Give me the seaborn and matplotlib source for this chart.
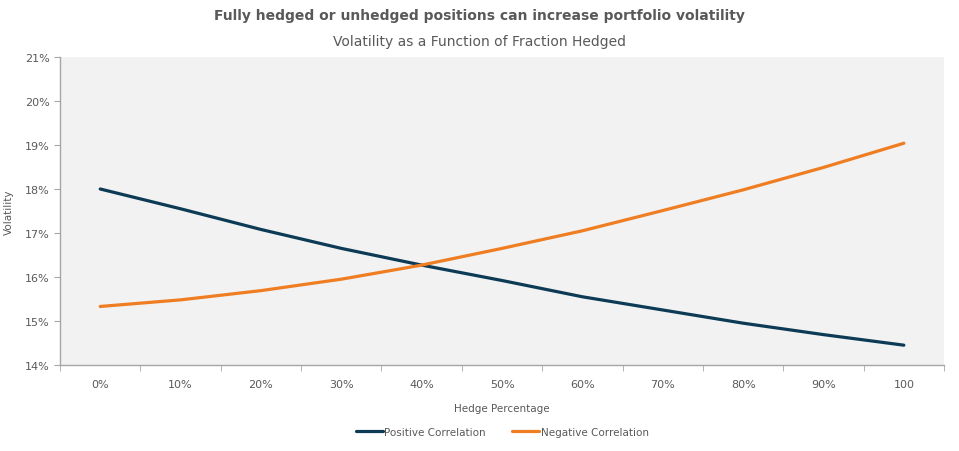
import pandas as pd
import seaborn as sns
import matplotlib.pyplot as plt
from matplotlib.ticker import PercentFormatter, FixedLocator

# data
hedge_labels = ['0%', '10%', '20%', '30%', '40%', '50%', '60%', '70%', '80%', '90%', '100']
positive_corr = [18.00, 17.55, 17.08, 16.65, 16.27, 15.92, 15.55, 15.25, 14.95, 14.69, 14.45]
negative_corr = [15.33, 15.48, 15.69, 15.95, 16.27, 16.65, 17.05, 17.51, 17.98, 18.49, 19.04]

df = pd.DataFrame({
    'Hedge': hedge_labels * 2,
    'Volatility': positive_corr + negative_corr,
    'Series': ['Positive Correlation'] * len(hedge_labels) + ['Negative Correlation'] * len(hedge_labels),
})

sns.set_style('white')
plt.rcParams['font.family'] = ['DejaVu Sans']
grey = '#595959'

fig = plt.figure(figsize=(9.59, 4.52), dpi=100)
ax = fig.add_axes([0.0626, 0.1903, 0.9218, 0.6814])
ax.set_facecolor('#f2f2f2')

sns.lineplot(data=df, x='Hedge', y='Volatility', hue='Series', sort=False,
             palette={'Positive Correlation': '#0d3b55', 'Negative Correlation': '#ef7d22'},
             linewidth=2.3, ax=ax)

ax.set_xlim(-0.5, 10.5)
ax.set_ylim(14, 21)
ax.yaxis.set_major_formatter(PercentFormatter(decimals=0))
ax.xaxis.set_minor_locator(FixedLocator([i - 0.5 for i in range(12)]))
ax.tick_params(axis='x', which='major', length=0, pad=10, labelsize=8, labelcolor=grey)
ax.tick_params(axis='x', which='minor', length=4, color='#a6a6a6', direction='out', bottom=True)
ax.tick_params(axis='y', length=4, color='#a6a6a6', direction='out', left=True, labelsize=8, labelcolor=grey)

for side in ['top', 'right']:
    ax.spines[side].set_visible(False)
for side in ['left', 'bottom']:
    ax.spines[side].set_color('#a6a6a6')
    ax.spines[side].set_linewidth(1)

ax.set_xlabel('Hedge Percentage', fontsize=7.5, color=grey, labelpad=10)
ax.set_ylabel('Volatility', fontsize=7.5, color=grey, labelpad=8)

ax.legend(loc='center', bbox_to_anchor=(0.5, -0.218), ncol=2, frameon=False,
          fontsize=7.5, labelcolor=grey, handlelength=2.6, handletextpad=0.1, columnspacing=2.6)

fig.text(0.5, 0.965, 'Fully hedged or unhedged positions can increase portfolio volatility',
         ha='center', va='center', fontsize=10, fontweight='bold', color=grey)
fig.text(0.5, 0.908, 'Volatility as a Function of Fraction Hedged',
         ha='center', va='center', fontsize=10, color=grey)

plt.savefig('out.png', dpi=100)
